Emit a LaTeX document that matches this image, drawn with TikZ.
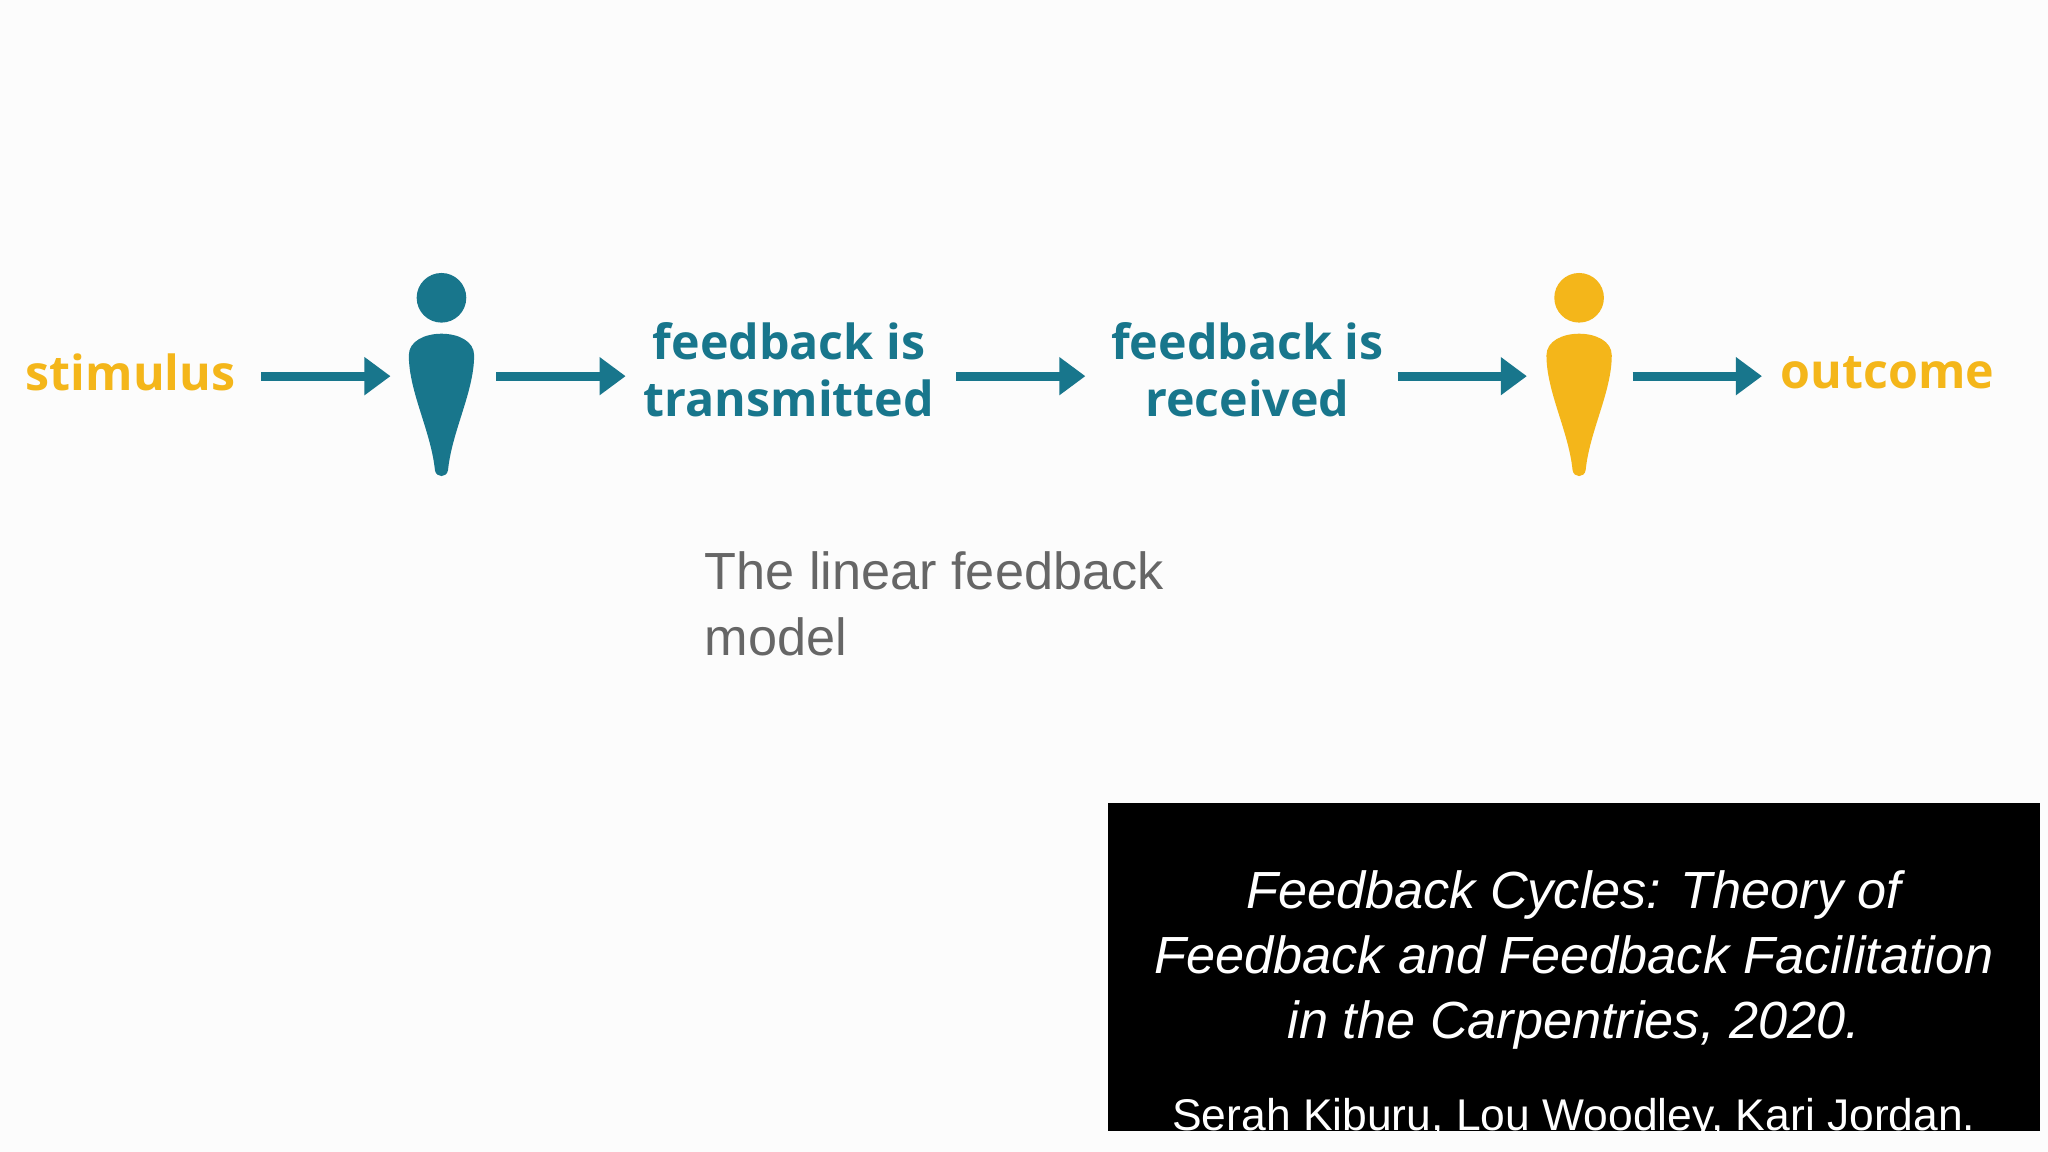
\documentclass[tikz,border=0pt]{standalone}
\usepackage{fontspec}
\setmainfont{Liberation Sans}
\newfontfamily\osb{Open Sans}[UprightFont=* Bold]
\usetikzlibrary{arrows.meta}
\definecolor{teal}{RGB}{24,118,140}
\definecolor{gold}{RGB}{244,182,26}
\definecolor{grayt}{RGB}{102,102,102}
\tikzset{
  lab/.style={font=\osb\fontsize{37}{44}\selectfont, align=center},
  arr/.style={draw=teal, line width=7pt, -{Triangle[length=20pt,width=28pt]}},
}
\begin{document}
\begin{tikzpicture}[x=1pt,y=-1pt]
\useasboundingbox[fill=white!99!black] (0,0) rectangle (1568,882);
\node[lab, text=gold] (stim) at (100,285) {stimulus};
\node[lab, text=teal] (tr) at (604,283) {feedback is\\transmitted};
\node[lab, text=teal] (rc) at (955,283) {feedback is\\received};
\node[lab, text=gold] (out) at (1445,285) {outcome};
% persons
\foreach \cx/\col/\nm in {338/teal/p1, 1209/gold/p2}{
  \fill[\col] (\cx,228) circle (19);
  \fill[\col] (\cx-25,272) .. controls (\cx-25,250) and (\cx+25,250) .. (\cx+25,272)
     .. controls (\cx+25,300) and (\cx+8,330) .. (\cx+5,360)
     .. controls (\cx+4,366) and (\cx-4,366) .. (\cx-5,360)
     .. controls (\cx-8,330) and (\cx-25,300) .. (\cx-25,272) -- cycle;
  \coordinate (\nm) at (\cx,288);
}
\coordinate (a1s) at (200,288); \coordinate (a1e) at (299,288);
\coordinate (a2s) at (380,288); \coordinate (a2e) at (479,288);
\coordinate (a3s) at (732,288); \coordinate (a3e) at (831,288);
\coordinate (a4s) at (1070,288); \coordinate (a4e) at (1169,288);
\coordinate (a5s) at (1250,288); \coordinate (a5e) at (1349,288);
\foreach \i in {1,...,5}{\draw[arr] (a\i s) -- (a\i e);}
\node[anchor=north west, align=left, text=grayt, font=\fontsize{40}{50}\selectfont] (cap) at (536,419) {The linear feedback\\model};
\fill[black] (848,615) rectangle (1562,866);
\begin{scope}
\clip (848,615) rectangle (1562,866);
\node[text=white, align=center, font=\itshape\fontsize{40}{49.5}\selectfont] (ttl) at (1205,735) {Feedback Cycles: Theory of\\Feedback and Feedback Facilitation\\in the Carpentries, 2020.};
\node[text=white, font=\fontsize{34}{40}\selectfont] (auth) at (1205,857) {Serah Kiburu, Lou Woodley, Kari Jordan.};
\end{scope}
\end{tikzpicture}
\end{document}
